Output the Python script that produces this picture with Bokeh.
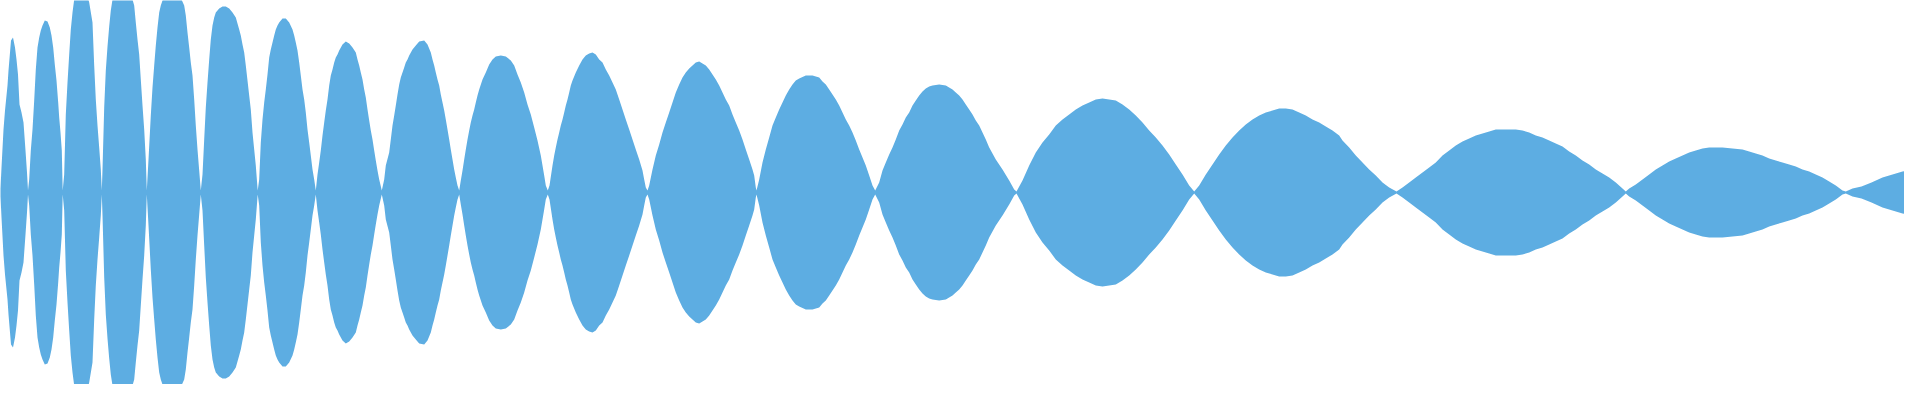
from bokeh.plotting import figure
from bokeh.models import Range1d, ColumnDataSource
from bokeh.embed import file_html
from bokeh.resources import INLINE

# Envelope of the waveform: x position (sample index scale 0..1920) and half-amplitude
x_part1 = [0, 2, 4, 6, 8,
           9, 11, 12.5, 14, 15, 16, 17.5, 18.5, 20.5, 22.5, 24, 25.5, 27, 29, 31, 33, 34.5, 35.5,
           36.7, 38.3, 40, 41.7, 43.3, 45, 46.7, 48.3, 50, 52.3, 55, 57.3, 59, 60.7, 62.3, 64, 65.7, 66.7, 68, 69.3, 70.2,
           71.7, 73.3, 75, 76.7, 78.3, 80, 81.7, 85, 88, 94, 96.7, 100, 101.7, 103.3, 105, 106.7, 108.3, 109.3,
           110, 111.7, 113.3, 115, 116.7, 118.3, 120, 122.7, 125, 130, 138.3, 140, 141.7, 143.3, 145, 146.7, 148.3, 150, 151.7, 153.3, 154.3,
           156, 158.3, 160, 161.7, 163.3, 165, 166.7, 168.3, 170.7, 173.3, 184, 189, 191.7, 193.3, 195, 196.7, 198.3, 200, 201.7, 203.3, 205, 206.7, 208.3,
           210, 211.7, 213.3, 215, 216.7, 218.3, 220, 221.7, 223.3, 226.7, 230, 233.3, 236.7, 240, 243.3, 246.7, 248.3, 250, 251.7, 253.3, 255, 256.7, 258.3, 260, 261.7, 263.3, 265.2,
           266.7, 268.3, 270, 271.7, 273.3, 275, 276.7, 278.3, 280, 281.7, 283.3, 285, 286.7, 290, 293.3, 296.7, 300, 301.7, 303.3, 305, 306.7, 308.3, 310, 311.7, 313.3, 315, 316.7, 318.3, 320, 321.7, 323.3]
amp_part1 = [75, 80, 70, 58, 4,
             25, 63, 82, 97, 107, 122, 140, 152, 155, 145, 133, 118, 88, 80, 70, 42, 20, 2,
             13, 42, 63, 92, 123, 145, 155, 162, 167, 172, 171, 165, 157, 145, 128, 112, 90, 75, 60, 42, 2,
             18, 78, 110, 138, 163, 180, 193, 199, 200, 200, 190, 170, 127, 93, 67, 45, 23, 2,
             23, 85, 122, 146, 166, 182, 193, 197, 199, 197, 197, 193, 187, 170, 153, 138, 113, 87, 63, 33, 2,
             33, 77, 105, 127, 147, 165, 180, 187, 194, 197, 197, 193, 187, 177, 160, 145, 130, 117, 93, 67, 43, 22, 2,
             18, 53, 85, 110, 133, 153, 167, 175, 180, 184, 186, 186, 184, 180, 175, 163, 157, 148, 140, 127, 112, 97, 83, 60, 43, 27, 2,
             13, 50, 73, 90, 103, 118, 135, 143, 150, 157, 163, 167, 170, 174, 174, 170, 163, 157, 150, 142, 130, 117, 103, 93, 80, 63, 50, 37, 23, 13, 2]

x_part2 = [325, 326.7, 328.3, 330, 331.7, 333.3, 335, 336.7, 338.3, 340, 341.7, 343.3, 345, 346.7, 350, 353.3, 356.7, 360, 363.3, 365, 366.7, 368.3, 370, 371.7, 373.3, 375, 376.7, 378.3, 380, 381.7, 383.3, 385, 386.7, 389.3,
           391.7, 393.3, 396.7, 398.3, 400, 401.7, 403.3, 405, 406.7, 408.3, 410, 411.7, 413.3, 415, 416.7, 420, 423.3, 426.7, 431.7, 435, 438.3, 440, 441.7, 443.3, 445, 446.7, 448.3, 450, 451.7, 453.3, 455, 456.7, 458.3, 460, 461.7, 463.3, 465, 466.7,
           468.3, 470, 471.7, 473.3, 475, 476.7, 478.3, 480, 481.7, 483.3, 485, 486.7, 490, 493.3, 496.7, 500, 503.3, 508.3, 513.3, 518.3, 521.7, 525, 528.3, 531.7, 535, 538.3, 541.7, 545, 548.3, 550, 551.7, 553.3, 555.3,
           557, 560, 561.7, 563.3, 565, 566.7, 568.3, 570, 571.7, 573.3, 575, 576.7, 578.3, 580, 583.3, 586.7, 590, 593.3, 596.7, 600, 603.3, 606.7, 610, 613.3, 616.7, 620, 623.3, 626.7, 630, 633.3, 636.7, 640, 643.3, 646.7, 650, 651.7, 653.3, 655,
           656.7, 660, 663.3, 666.7, 670, 673.3, 676.7, 680, 683.3, 686.7, 690, 693.3, 696.7, 700, 703.3, 706.7, 710, 713.3, 716.7, 720, 723.3, 726.7, 730, 733.3, 736.7, 740, 743.3, 746.7, 750, 753.3, 756.7, 760, 761.7, 763.3, 764]
amp_part2 = [18, 30, 42, 57, 70, 82, 93, 107, 117, 123, 130, 135, 138, 142, 148, 151, 149, 145, 140, 133, 127, 120, 113, 103, 95, 83, 72, 62, 53, 42, 32, 22, 13, 2,
             13, 27, 40, 53, 67, 77, 87, 98, 108, 115, 120, 125, 130, 133, 137, 143, 147, 151, 152, 148, 140, 133, 127, 120, 113, 107, 98, 90, 82, 73, 63, 53, 43, 33, 23, 15, 7, 2,
             12, 22, 33, 43, 53, 62, 70, 77, 83, 90, 97, 103, 113, 120, 128, 133, 136, 137, 136, 132, 127, 118, 110, 100, 88, 78, 65, 52, 37, 27, 17, 7, 2,
             7, 27, 37, 45, 53, 60, 67, 73, 80, 87, 93, 100, 107, 112, 120, 127, 133, 137, 139, 140, 138, 133, 130, 123, 117, 110, 103, 93, 83, 73, 63, 53, 43, 33, 22, 13, 5, 2,
             7, 23, 37, 48, 60, 70, 80, 90, 100, 108, 115, 120, 124, 127, 130, 131, 129, 127, 123, 118, 113, 107, 100, 93, 87, 78, 70, 62, 53, 43, 33, 23, 17, 5, 2]

x_part3 = [766.7, 770, 773.3, 776.7, 780, 783.3, 786.7, 790, 793.3, 796.7, 800, 803.3, 806.7, 813.3, 820, 826.7, 830, 833.3, 836.7, 840, 843.3, 846.7, 850, 853.3, 856.7, 860, 863.3, 866.7, 870, 873.3, 876.7, 880, 882.7,
           886.7, 890, 893.3, 896.7, 900, 903.3, 906.7, 910, 913.3, 916.7, 920, 923.3, 926.7, 930, 933.3, 936.7, 940, 946.7, 953.3, 960, 963.3, 966.7, 970, 973.3, 976.7, 980, 983.3, 986.7, 990, 993.3, 996.7, 1003.3, 1010, 1016.7, 1021.7, 1024,
           1030, 1036.7, 1043.3, 1050, 1056.7, 1063.3, 1070, 1076.7, 1083.3, 1090, 1096.7, 1103.3, 1110, 1116.7, 1123.3, 1130, 1136.7, 1143.3, 1150, 1156.7, 1163.3, 1170, 1176.7, 1183.3, 1190, 1196.7, 1201.7,
           1206.7, 1213.3, 1220, 1226.7, 1233.3, 1240, 1246.7, 1253.3, 1260, 1266.7, 1273.3, 1280, 1286.7, 1293.3, 1300, 1306.7, 1313.3, 1320, 1326.7, 1333.3, 1340, 1346.7, 1350, 1356.7, 1363.3, 1370, 1376.7, 1383.3, 1390, 1396.7, 1404]
amp_part3 = [13, 30, 43, 55, 67, 75, 83, 90, 97, 103, 108, 112, 114, 117, 117, 115, 111, 108, 103, 98, 93, 87, 80, 73, 67, 60, 52, 43, 35, 27, 17, 7, 2,
             10, 22, 30, 38, 45, 53, 62, 68, 75, 80, 87, 92, 97, 101, 104, 106, 107, 108, 107, 103, 100, 97, 93, 88, 83, 78, 72, 67, 60, 53, 45, 33, 23, 12, 3, 1,
             12, 27, 40, 50, 58, 67, 73, 78, 83, 87, 90, 93, 94, 93, 92, 88, 83, 77, 70, 62, 55, 47, 38, 28, 18, 7, 1,
             7, 18, 28, 38, 47, 55, 62, 68, 73, 77, 80, 82, 84, 84, 83, 80, 77, 73, 70, 66, 62, 57, 52, 45, 37, 30, 23, 17, 10, 5, 1]

x_part4 = [1410, 1416.7, 1423.3, 1430, 1436.7, 1443.3, 1450, 1456.7, 1463.3, 1470, 1476.7, 1483.3, 1490, 1496.7, 1503.3, 1510, 1516.7, 1523.3, 1530, 1536.7, 1543.3, 1550, 1556.7, 1563.3, 1570, 1576.7, 1583.3, 1590, 1596.7, 1603.3, 1610, 1616.7, 1623.3, 1630, 1633.3,
           1636.7, 1643.3, 1650, 1656.7, 1663.3, 1670, 1676.7, 1683.3, 1690, 1696.7, 1703.3, 1710, 1716.7, 1730, 1740, 1750, 1756.7, 1763.3, 1770, 1776.7, 1783.3, 1790, 1796.7, 1803.3, 1810, 1816.7, 1823.3, 1830, 1836.7, 1843.3, 1850, 1853.3,
           1860, 1869, 1879, 1890, 1900, 1910, 1920]
amp_part4 = [5, 10, 15, 20, 25, 30, 37, 42, 47, 51, 54, 57, 59, 61, 63, 63, 63, 63, 62, 60, 57, 55, 52, 49, 46, 41, 37, 32, 28, 23, 19, 15, 10, 4, 1,
             4, 8, 13, 18, 23, 27, 31, 34, 37, 40, 42, 44, 45, 45, 44, 43, 41, 39, 37, 34, 32, 30, 28, 26, 23, 21, 18, 15, 11, 7, 2, 1,
             4, 6, 10, 15, 18, 21, 23]

FILL = "#5DADE2"

xs = x_part1 + x_part2 + x_part3 + x_part4
amps = amp_part1 + amp_part2 + amp_part3 + amp_part4
src = ColumnDataSource(data=dict(x=xs, top=amps, bottom=[-a for a in amps]))

p = figure(width=1904, height=384, output_backend="svg", toolbar_location=None,
           x_axis_location=None, y_axis_location=None, min_border=0,
           x_range=Range1d(8, 1912), y_range=Range1d(-192, 192))
p.outline_line_color = None
p.grid.visible = False
p.background_fill_color = "white"
p.border_fill_color = "white"

p.varea(x="x", y1="bottom", y2="top", source=src, fill_color=FILL, fill_alpha=1.0)

open("out.html", "w").write(file_html(p, INLINE))
